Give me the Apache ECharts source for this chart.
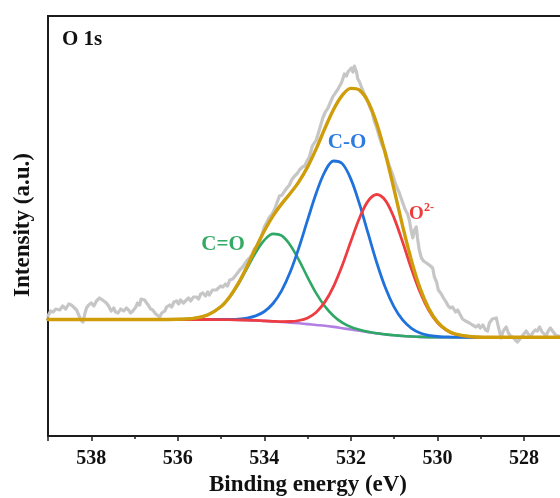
<!DOCTYPE html>
<html>
<head>
<meta charset="utf-8">
<script src="https://cdn.jsdelivr.net/npm/echarts@6/dist/echarts.min.js"></script>
<style>
  html, body { margin: 0; padding: 0; background: #fff; }
  #chart { width: 560px; height: 498px; }
</style>
</head>
<body>
<div id="chart"></div>
<script>
// O 1s XPS spectrum: measured counts and the three-component peak fit.

// Measured spectrum (binding energy in eV, intensity in a.u.)
const rawEnergy = [
  539.00, 538.94, 538.88, 538.82, 538.73, 538.66, 538.59, 538.52, 538.46, 538.41,
  538.34, 538.29, 538.24, 538.19, 538.15, 538.11, 538.06, 538.00, 537.94, 537.88,
  537.81, 537.74, 537.65, 537.60, 537.54, 537.48, 537.44, 537.38, 537.32, 537.25,
  537.19, 537.14, 537.09, 537.04, 536.97, 536.93, 536.88, 536.85, 536.81, 536.77,
  536.73, 536.67, 536.63, 536.58, 536.51, 536.47, 536.42, 536.37, 536.30, 536.26,
  536.19, 536.14, 536.09, 536.03, 535.98, 535.94, 535.87, 535.80, 535.75, 535.70,
  535.64, 535.57, 535.52, 535.47, 535.42, 535.36, 535.31, 535.27, 535.20, 535.11,
  535.06, 535.01, 534.96, 534.90, 534.85, 534.80, 534.73, 534.69, 534.62, 534.57,
  534.50, 534.46, 534.39, 534.34, 534.28, 534.23, 534.16, 534.11, 534.05, 534.00,
  533.94, 533.88, 533.82, 533.76, 533.71, 533.65, 533.59, 533.53, 533.48, 533.42,
  533.37, 533.30, 533.23, 533.19, 533.12, 533.07, 533.00, 532.96, 532.89, 532.80,
  532.73, 532.65, 532.59, 532.53, 532.47, 532.42, 532.36, 532.31, 532.26, 532.22,
  532.18, 532.15, 532.10, 532.07, 532.03, 531.99, 531.95, 531.92, 531.87, 531.84,
  531.80, 531.76, 531.73, 531.69, 531.64, 531.57, 531.51, 531.46, 531.40, 531.34,
  531.28, 531.22, 531.17, 531.11, 531.04, 530.95, 530.88, 530.80, 530.74, 530.69,
  530.65, 530.60, 530.57, 530.53, 530.49, 530.46, 530.42, 530.37, 530.32, 530.28,
  530.22, 530.16, 530.11, 530.07, 530.02, 529.98, 529.91, 529.86, 529.80, 529.75,
  529.70, 529.65, 529.58, 529.53, 529.47, 529.42, 529.35, 529.31, 529.26, 529.19,
  529.11, 529.05, 529.01, 528.95, 528.89, 528.84, 528.80, 528.73, 528.64, 528.59,
  528.53, 528.48, 528.41, 528.36, 528.31, 528.26, 528.20, 528.15, 528.11, 528.04,
  527.95, 527.90, 527.85, 527.80, 527.74, 527.69, 527.64, 527.58, 527.49, 527.44,
  527.39, 527.34, 527.27, 527.22, 527.18, 527.11
];
const rawIntensity = [
  120, 125, 124, 127, 126, 130, 127, 132, 131, 129,
  126, 121, 116, 114, 122, 128, 131, 133, 130, 135,
  138, 136, 133, 130, 125, 128, 124, 123, 127, 125,
  128, 126, 123, 125, 129, 133, 131, 137, 139, 136,
  134, 130, 127, 126, 122, 120, 119, 123, 125, 129,
  131, 129, 134, 135, 132, 136, 133, 136, 138, 135,
  139, 139, 137, 142, 143, 140, 144, 141, 146, 146,
  148, 150, 149, 152, 150, 156, 157, 159, 163, 166,
  169, 170, 176, 178, 182, 187, 190, 194, 202, 209,
  214, 219, 222, 227, 233, 240, 241, 245, 248, 251,
  256, 260, 263, 266, 269, 270, 276, 279, 290, 296,
  306, 318, 324, 328, 334, 339, 343, 346, 350, 353,
  358, 362, 360, 364, 366, 368, 364, 370, 364, 357,
  354, 352, 346, 342, 338, 330, 324, 315, 308, 299,
  291, 286, 278, 270, 262, 250, 243, 233, 226, 222,
  216, 204, 198, 206, 209, 198, 186, 178, 175, 177,
  172, 170, 168, 159, 154, 146, 142, 138, 134, 130,
  128, 129, 124, 126, 121, 117, 115, 117, 113, 111,
  109, 111, 108, 111, 106, 105, 113, 117, 118, 109,
  98, 105, 109, 103, 100, 99, 96, 94, 93, 100,
  105, 102, 99, 103, 106, 105, 109, 104, 100, 105,
  108, 105, 101, 100, 102, 100
];

// Fitted curves, sampled on a shared energy grid
const fitEnergy = [
  539, 538, 537, 536.5, 536, 535.6, 535.3, 535, 534.8, 534.6,
  534.4, 534.2, 534, 533.8, 533.6, 533.4, 533.2, 533, 532.8, 532.6,
  532.4, 532.2, 532, 531.8, 531.6, 531.4, 531.2, 531, 530.8, 530.6,
  530.4, 530.2, 530, 529.8, 529.6, 529.2, 528.8, 528, 527, 526
];
const background = [
  116.5, 116.5, 116.5, 116.5, 116.5, 116.5, 116.5, 116.4, 116.3, 116.1,
  115.9, 115.6, 115.1, 114.6, 114.0, 113.4, 112.7, 111.9, 111.0, 110.2,
  109.1, 107.8, 106.5, 105.2, 103.9, 102.6, 101.6, 100.7, 100.0, 99.5,
  99.1, 98.9, 98.8, 98.8, 98.7, 98.7, 98.7, 98.7, 98.7, 98.7
];
const peakCdO = [
  116.5, 116.5, 116.5, 116.5, 116.7, 117.9, 121.3, 129.4, 139.0, 152.0,
  167.6, 183.4, 195.8, 202.1, 200.3, 190.8, 175.8, 158.7, 142.6, 129.6,
  120.0, 113.3, 109.0, 106.3, 104.3, 102.7, 101.6, 100.7, 100.0, 99.5,
  99.1, 98.9, 98.8, 98.8, 98.7, 98.7, 98.7, 98.7, 98.7, 98.7
];
const peakCO = [
  116.5, 116.5, 116.5, 116.5, 116.5, 116.5, 116.5, 116.5, 116.6, 116.9,
  117.9, 120.1, 124.5, 132.5, 145.4, 164.2, 188.5, 216.1, 243.0, 264.4,
  275.0, 272.4, 256.9, 231.9, 202.3, 173.0, 148.0, 128.9, 115.8, 107.7,
  103.0, 100.6, 99.5, 99.1, 98.8, 98.7, 98.7, 98.7, 98.7, 98.7
];
const peakO2 = [
  116.5, 116.5, 116.5, 116.5, 116.5, 116.5, 116.5, 116.4, 116.3, 116.1,
  115.9, 115.6, 115.1, 114.7, 114.4, 114.5, 115.5, 118.1, 123.8, 134.1,
  149.7, 170.5, 194.7, 218.0, 235.2, 241.5, 235.4, 217.9, 193.4, 167.2,
  143.7, 125.7, 113.4, 106.0, 102.0, 99.2, 98.7, 98.7, 98.7, 98.7
];
const envelope = [
  116.5, 116.5, 116.5, 116.5, 116.7, 117.9, 121.3, 129.5, 139.3, 152.8,
  169.6, 187.9, 205.2, 220.1, 232.1, 242.7, 254.4, 269.1, 287.4, 307.7,
  326.5, 340.6, 347.6, 345.8, 334.0, 312.0, 281.8, 246.1, 209.2, 175.4,
  147.6, 127.4, 114.1, 106.3, 102.1, 99.2, 98.7, 98.7, 98.7, 98.7
];

// Axis ranges
const energyMin = 526;
const energyMax = 539;
const intensityMin = 0;
const intensityMax = 420;

const serif = '"Liberation Serif", "Times New Roman", Times, serif';
const ink = '#1c1c1c';

const zip = (xs, ys) => xs.map((x, i) => [x, ys[i]]);

function curve(name, xs, ys, color, width, z, smooth) {
  return {
    name: name,
    type: 'line',
    data: zip(xs, ys),
    symbol: 'none',
    showSymbol: false,
    smooth: smooth,
    silent: true,
    z: z,
    lineStyle: { color: color, width: width, cap: 'round', join: 'round' }
  };
}

const chart = echarts.init(document.getElementById('chart'), null, { renderer: 'canvas' });

// The plot frame runs past the right edge of the canvas, so the panel
// looks open on that side; outer-bounds fitting is switched off for it.
chart.setOption({
  animation: false,
  grid: {
    left: 48, top: 16, width: 562.5, height: 420,
    outerBoundsMode: 'none', containLabel: false,
    show: true, borderColor: ink, borderWidth: 2
  },
  xAxis: [
    {
      type: 'value', min: energyMin, max: energyMax, interval: 1, inverse: true,
      position: 'bottom',
      axisLine: { show: false },
      axisTick: { show: true, length: 3, lineStyle: { color: ink, width: 1.5 } },
      axisLabel: { show: false },
      splitLine: { show: false }
    },
    {
      type: 'value', min: energyMin, max: energyMax, interval: 2, inverse: true,
      position: 'bottom',
      axisLine: { show: false },
      axisTick: { show: true, length: 5, lineStyle: { color: ink, width: 1.5 } },
      axisLabel: {
        show: true, margin: 13,
        formatter: v => (v % 2 === 0 ? String(v) : ''),
        fontFamily: serif, fontWeight: 'bold', fontSize: 20, color: '#111'
      },
      splitLine: { show: false }
    }
  ],
  yAxis: {
    type: 'value', min: intensityMin, max: intensityMax,
    axisLine: { show: false }, axisTick: { show: false },
    axisLabel: { show: false }, splitLine: { show: false }
  },
  series: [
    curve('Raw', rawEnergy, rawIntensity, '#c6c6c6', 3.2, 2, false),
    curve('Background', fitEnergy, background, '#b27fe3', 2.6, 3, 0.35),
    curve('C=O', fitEnergy, peakCdO, '#2fa866', 2.6, 4, 0.35),
    curve('C-O', fitEnergy, peakCO, '#1f72dc', 2.8, 5, 0.35),
    curve('O2-', fitEnergy, peakO2, '#ee3d42', 2.8, 6, 0.35),
    curve('Envelope', fitEnergy, envelope, '#cf9d0a', 3.4, 7, 0.35)
  ],
  graphic: [
    {
      type: 'text', x: 62, y: 40, z: 10,
      style: { text: 'O 1s', font: 'bold 21px ' + serif, fill: '#111', align: 'left', verticalAlign: 'middle' }
    },
    {
      type: 'text', x: 223, y: 245, z: 10,
      style: { text: 'C=O', font: 'bold 21px ' + serif, fill: '#33aa66', align: 'center', verticalAlign: 'middle' }
    },
    {
      type: 'text', x: 347, y: 143, z: 10,
      style: { text: 'C-O', font: 'bold 21px ' + serif, fill: '#2b7be0', align: 'center', verticalAlign: 'middle' }
    },
    {
      type: 'text', x: 409, y: 214, z: 10,
      style: { text: 'O', font: 'bold 19px ' + serif, fill: '#ee3b3b', align: 'left', verticalAlign: 'middle' }
    },
    {
      type: 'text', x: 424, y: 208, z: 10,
      style: { text: '2-', font: 'bold 12px ' + serif, fill: '#ee3b3b', align: 'left', verticalAlign: 'middle' }
    },
    {
      type: 'text', x: 308, y: 485, z: 10,
      style: { text: 'Binding energy (eV)', font: 'bold 23px ' + serif, fill: '#111', align: 'center', verticalAlign: 'middle' }
    },
    {
      type: 'text', x: 23, y: 225, rotation: Math.PI / 2, z: 10,
      style: { text: 'Intensity (a.u.)', font: 'bold 23px ' + serif, fill: '#111', align: 'center', verticalAlign: 'middle' }
    }
  ]
});
</script>
</body>
</html>
